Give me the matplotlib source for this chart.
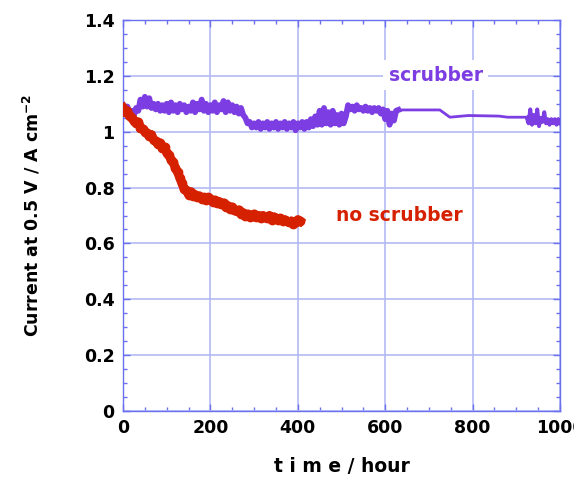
import numpy as np
import matplotlib
matplotlib.use("Agg")
import matplotlib.pyplot as plt
from matplotlib.ticker import MultipleLocator

# ---------------- data ----------------
# "no scrubber" (red), sampled every 5 h from 0 to 405 h
noscrub_time = np.arange(0, 410, 5)
noscrub_current = [
    1.085, 1.07, 1.075, 1.055, 1.05, 1.04, 1.03, 1.035, 1.015, 1.01,
    1.0, 0.995, 0.985, 0.99, 0.97, 0.965, 0.955, 0.96, 0.94, 0.945,
    0.925, 0.915, 0.9, 0.89, 0.87, 0.855, 0.835, 0.815, 0.795, 0.79,
    0.775, 0.785, 0.77, 0.775, 0.765, 0.77, 0.76, 0.765, 0.755, 0.765,
    0.76, 0.75, 0.755, 0.745, 0.75, 0.74, 0.745, 0.73, 0.735, 0.725,
    0.73, 0.72, 0.715, 0.72, 0.705, 0.71, 0.70, 0.705, 0.695, 0.70,
    0.705, 0.695, 0.70, 0.69, 0.70, 0.695, 0.69, 0.70, 0.685, 0.695,
    0.69, 0.685, 0.69, 0.68, 0.685, 0.68, 0.675, 0.68, 0.67, 0.675,
    0.685, 0.68,
]

# "scrubber" (purple): noisy part every 5 h 0..630 h
scrub_time_a = np.arange(0, 635, 5)
scrub_current_a = [
    1.095, 1.075, 1.09, 1.065, 1.075, 1.06,
    1.085, 1.075, 1.115, 1.09, 1.125, 1.09, 1.12, 1.085,
    1.10, 1.08, 1.10, 1.075, 1.095, 1.075, 1.10, 1.07, 1.105, 1.075,
    1.095, 1.07, 1.10, 1.08, 1.095, 1.07, 1.09, 1.075, 1.105, 1.07,
    1.10, 1.08, 1.115, 1.075, 1.10, 1.07, 1.095, 1.075, 1.105, 1.07,
    1.095, 1.08, 1.11, 1.07, 1.105, 1.075, 1.095, 1.07, 1.09, 1.065,
    1.085, 1.06,
    1.05, 1.03, 1.035, 1.015, 1.03, 1.015, 1.035, 1.01, 1.03, 1.015,
    1.035, 1.01, 1.03, 1.015, 1.035, 1.01, 1.03, 1.015, 1.035, 1.01,
    1.03, 1.015, 1.035, 1.005, 1.03, 1.015, 1.035, 1.01, 1.035,
    1.015, 1.045, 1.02, 1.055, 1.025, 1.075, 1.025, 1.085, 1.03, 1.07,
    1.025, 1.075, 1.03, 1.06, 1.025, 1.065, 1.03, 1.055,
    1.095, 1.08, 1.09, 1.075, 1.095, 1.08, 1.085, 1.075, 1.09, 1.075,
    1.085, 1.07, 1.085, 1.075, 1.085, 1.065, 1.08, 1.045, 1.075, 1.025,
    1.065, 1.04, 1.075, 1.078,
]
# smooth part (continues from 630 h)
scrub_time_b = [630, 725, 748, 790, 860, 880, 924]
scrub_current_b = [1.078, 1.078, 1.052, 1.058, 1.056, 1.052, 1.052]
# noisy tail every 4 h 924..1000 h
scrub_time_c = np.arange(924, 1004, 4)
scrub_current_c = [
    1.05, 1.03, 1.08, 1.025, 1.06, 1.03, 1.08, 1.02, 1.05, 1.035,
    1.07, 1.03, 1.045, 1.025, 1.045, 1.03, 1.045, 1.025, 1.045, 1.03,
]

x_ticks = [0, 200, 400, 600, 800, 1000]
x_ticklabels = ["0", "200", "400", "600", "800", "1000"]
y_ticks = [0, 0.2, 0.4, 0.6, 0.8, 1.0, 1.2, 1.4]
y_ticklabels = ["0", "0.2", "0.4", "0.6", "0.8", "1", "1.2", "1.4"]

# ---------------- style ----------------
purple = "#7c3de2"
red = "#d62100"
axis_blue = "#6a70ee"
grid_blue = "#b4baf5"

fig = plt.figure(figsize=(5.74, 4.79), dpi=100)
ax = fig.add_axes([0.2143, 0.1420, 0.7613, 0.8162])

ax.plot(scrub_time_a, scrub_current_a, color=purple, lw=4.2, zorder=3,
        solid_joinstyle="round")
ax.plot(scrub_time_b, scrub_current_b, color=purple, lw=2.0, zorder=3)
ax.plot(scrub_time_c, scrub_current_c, color=purple, lw=2.8, zorder=3,
        solid_joinstyle="round")
ax.plot(noscrub_time, noscrub_current, color=red, lw=6.5, marker="o",
        ms=6, mec=red, mfc=red, zorder=4, solid_joinstyle="round")

ax.set_xlim(0, 1000)
ax.set_ylim(0, 1.4)
ax.set_xticks(x_ticks)
ax.set_xticklabels(x_ticklabels)
ax.set_yticks(y_ticks)
ax.set_yticklabels(y_ticklabels)
ax.xaxis.set_minor_locator(MultipleLocator(50))
ax.yaxis.set_minor_locator(MultipleLocator(0.05))

ax.grid(True, which="major", color=grid_blue, lw=1.2, zorder=0)
for s in ax.spines.values():
    s.set_color(axis_blue)
    s.set_linewidth(1.0)
ax.tick_params(which="both", direction="in", top=True, right=True,
               color=axis_blue)
ax.tick_params(which="major", length=5, width=1.0, labelsize=12.5, pad=6)
ax.tick_params(which="minor", length=3, width=1.0)
for lab in ax.get_xticklabels() + ax.get_yticklabels():
    lab.set_fontweight("bold")

ax.set_xlabel("t i m e / hour", fontsize=13.5, fontweight="bold", labelpad=14)
ax.set_ylabel("Current at 0.5 V / A cm$^{\\mathbf{-2}}$", fontsize=12.5,
              fontweight="bold", labelpad=30)

ax.text(608, 1.203, "scrubber", color=purple, fontsize=13.5, va="center",
        ha="left", zorder=5, fontweight="semibold",
        bbox=dict(facecolor="white", edgecolor="none", pad=4))
ax.text(487, 0.70, "no scrubber", color=red, fontsize=13.5, va="center",
        ha="left", zorder=5, fontweight="semibold")

fig.savefig("out.png", dpi=100)
